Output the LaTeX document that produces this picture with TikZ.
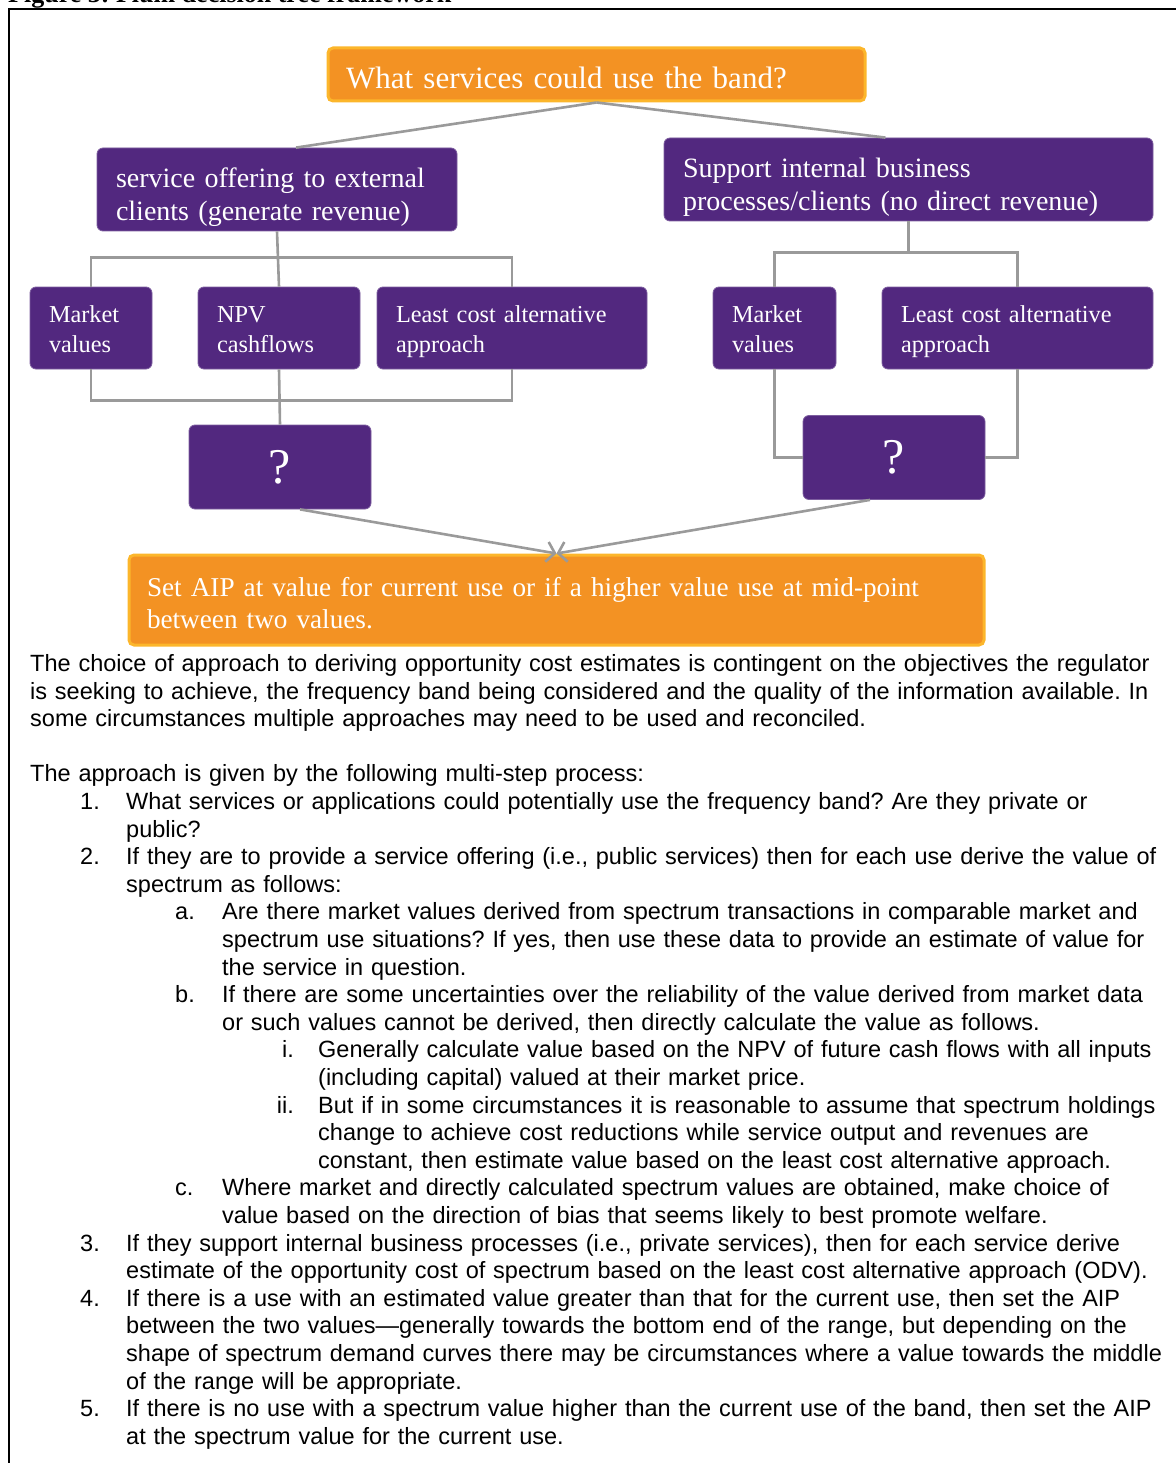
\documentclass[tikz,border=0pt]{standalone}
\usepackage{fontspec}
\setmainfont{Liberation Serif}
\newfontfamily\arialfont{Liberation Sans}
\usepackage{tikz}
\usetikzlibrary{positioning,arrows.meta}
\frenchspacing

\definecolor{aipurple}{HTML}{52287F}
\definecolor{aiorange}{HTML}{F39223}
\definecolor{aiyellow}{HTML}{FCB62B}
\definecolor{linkgrey}{HTML}{9A9A9A}

\begin{document}
\begin{tikzpicture}[x=1pt, y=-1pt,
    every node/.style={inner sep=0pt},
    orangebox/.style={fill=aiorange, draw=aiyellow, line width=3pt, rounded corners=5pt,
      text=white, align=left, inner xsep=18pt},
    purplebox/.style={fill=aipurple, draw=aipurple!75!white, line width=0.8pt, rounded corners=6pt,
      text=white, align=left, inner xsep=19pt},
    headbox/.style={purplebox, font=\fontsize{28}{33}\selectfont, minimum height=83pt,
      text height=20pt, text depth=24pt},
    leafbox/.style={purplebox, font=\fontsize{24.3}{30}\selectfont, minimum height=82pt,
      text height=18pt, text depth=29pt},
    qbox/.style={purplebox, font=\fontsize{50}{50}\selectfont, minimum width=182pt,
      minimum height=84pt, align=center},
    link/.style={draw=linkgrey, line width=2.6pt},
    flow/.style={link, -{Straight Barb[length=8pt,width=20pt]}},
    bodytext/.style={font=\arialfont\fontsize{23.5}{27.6}\selectfont,
      anchor=base west, align=left, text width=1150pt},
    itemnum/.style={font=\arialfont\fontsize{23.5}{27.6}\selectfont, anchor=base west},
    romannum/.style={itemnum, anchor=base east}]
  \useasboundingbox (0,0) rectangle (1175,1463);

  % caption and frame (cut at the page edges)
  \node[font=\bfseries\fontsize{26}{30}\selectfont, anchor=base west] (caption) at (8,3)
    {Figure 3: Plum decision tree framework};
  \draw[line width=1.6pt] (9,1480) |- (1190,9);

  % question and the two kinds of use
  \node[orangebox, font=\fontsize{31}{36}\selectfont, text width=501pt, minimum height=53pt,
    text height=29pt, text depth=0pt] (q) at (596.5,74.5) {What services could use the band?};
  \node[headbox, text width=322pt] (ext) at (277,189.5)
    {service offering to external\\clients (generate revenue)};
  \node[headbox, text width=451pt] (int) at (908.5,179.5)
    {Support internal business\\processes/clients (no direct revenue)};

  % valuation approaches
  \node[leafbox, text width=84pt] (mv1) at (91,328) {Market\\values};
  \node[leafbox, text width=124pt] (npv) at (279,328) {NPV\\cashflows};
  \node[leafbox, text width=232pt] (lca1) at (512,328) {Least cost alternative\\approach};
  \node[leafbox, text width=85pt] (mv2) at (774.5,328) {Market\\values};
  \node[leafbox, text width=233pt] (lca2) at (1017.5,328) {Least cost alternative\\approach};

  \node[qbox] (qa) at (280,467) {?};
  \node[qbox] (qb) at (894,457.5) {?};

  \node[orangebox, font=\fontsize{27.2}{32}\selectfont, text width=819pt, minimum height=90pt,
    text height=20pt, text depth=28pt] (aip) at (556.5,600)
    {Set AIP at value for current use or if a higher value use at mid-point\\between two values.};

  % connectors
  \draw[link] (q.south) -- ([xshift=19pt]ext.north);
  \draw[link] (q.south) -- ([xshift=-23pt]int.north);
  \draw[link] (ext.south) -- (npv.north);
  \draw[link] (mv1.north) -- ++(0,-29) -| (lca1.north);
  \draw[link] (mv1.south) -- ++(0,31) -| (lca1.south);
  \draw[link] (npv.south) -- (qa.north);
  \draw[link] (int.south) -- ++(0,32);
  \draw[link] (mv2.north) -- ++(0,-34) -| (lca2.north);
  \draw[link] (mv2.south) |- (qb.west);
  \draw[link] (lca2.south) |- (qb.east);
  \draw[flow] ([xshift=20pt]qa.south) -- (aip.north);
  \draw[flow] ([xshift=-24pt]qb.south) -- (aip.north);

  % text below the tree
  \node[bodytext] (choice) at (30,671.5) {The choice of approach to deriving opportunity cost estimates is contingent on the objectives the regulator\\is seeking to achieve, the frequency band being considered and the quality of the information available. In\\some circumstances multiple approaches may need to be used and reconciled.};
  \node[bodytext] (process) at (30,781.9) {The approach is given by the following multi-step process:};
  \node[itemnum] (n1) at (80,809.5) {1.};
  \node[bodytext] (item1) at (126,809.5) {What services or applications could potentially use the frequency band? Are they private or\\public?};
  \node[itemnum] (n2) at (80,864.7) {2.};
  \node[bodytext] (item2) at (126,864.7) {If they are to provide a service offering (i.e., public services) then for each use derive the value of\\spectrum as follows:};
  \node[itemnum] (na) at (175,919.9) {a.};
  \node[bodytext] (itema) at (222,919.9) {Are there market values derived from spectrum transactions in comparable market and\\spectrum use situations? If yes, then use these data to provide an estimate of value for\\the service in question.};
  \node[itemnum] (nb) at (175,1002.7) {b.};
  \node[bodytext] (itemb) at (222,1002.7) {If there are some uncertainties over the reliability of the value derived from market data\\or such values cannot be derived, then directly calculate the value as follows.};
  \node[romannum] (ni) at (294,1057.9) {i.};
  \node[bodytext] (itemi) at (318,1057.9) {Generally calculate value based on the NPV of future cash flows with all inputs\\(including capital) valued at their market price.};
  \node[romannum] (nii) at (294,1113.1) {ii.};
  \node[bodytext] (itemii) at (318,1113.1) {But if in some circumstances it is reasonable to assume that spectrum holdings\\change to achieve cost reductions while service output and revenues are\\constant, then estimate value based on the least cost alternative approach.};
  \node[itemnum] (nc) at (175,1195.9) {c.};
  \node[bodytext] (itemc) at (222,1195.9) {Where market and directly calculated spectrum values are obtained, make choice of\\value based on the direction of bias that seems likely to best promote welfare.};
  \node[itemnum] (n3) at (80,1251.1) {3.};
  \node[bodytext] (item3) at (126,1251.1) {If they support internal business processes (i.e., private services), then for each service derive\\estimate of the opportunity cost of spectrum based on the least cost alternative approach (ODV).};
  \node[itemnum] (n4) at (80,1306.3) {4.};
  \node[bodytext] (item4) at (126,1306.3) {If there is a use with an estimated value greater than that for the current use, then set the AIP\\between the two values—generally towards the bottom end of the range, but depending on the\\shape of spectrum demand curves there may be circumstances where a value towards the middle\\of the range will be appropriate.};
  \node[itemnum] (n5) at (80,1416.7) {5.};
  \node[bodytext] (item5) at (126,1416.7) {If there is no use with a spectrum value higher than the current use of the band, then set the AIP\\at the spectrum value for the current use.};
\end{tikzpicture}
\end{document}
